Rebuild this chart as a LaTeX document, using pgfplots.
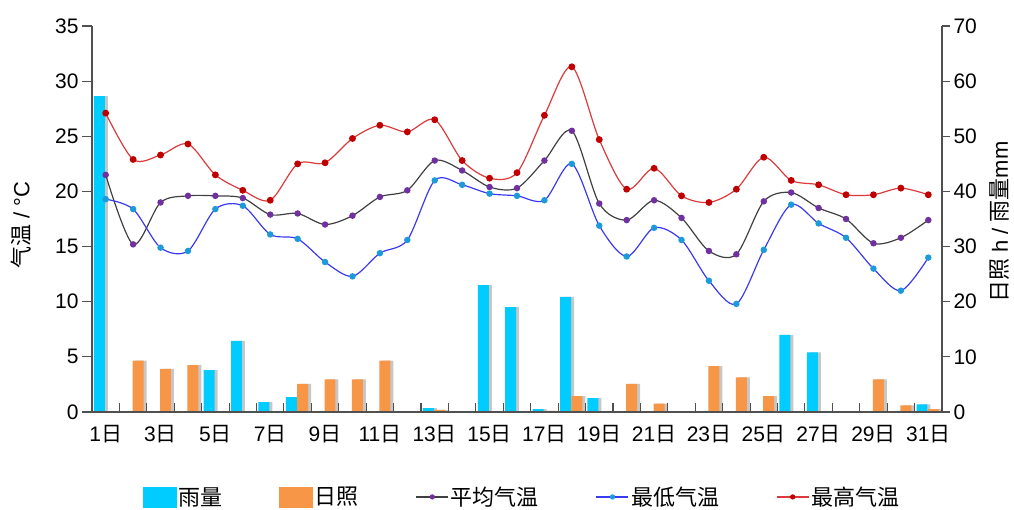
\documentclass[border=0pt]{standalone}
\usepackage{fontspec}
\setmainfont{Liberation Sans}
\newfontfamily\cjk{Noto Sans CJK SC}
\usepackage{pgfplots}
\pgfplotsset{compat=1.18}
\usepackage{pgfplotstable}

\definecolor{rain}{HTML}{00CCFF}
\definecolor{sun}{HTML}{F79646}
\definecolor{avgline}{HTML}{404040}
\definecolor{avgmark}{HTML}{7030A0}
\definecolor{minline}{HTML}{3A3AF2}
\definecolor{minmark}{HTML}{1C9ADA}
\definecolor{maxline}{HTML}{DB3B3B}
\definecolor{maxmark}{HTML}{C00000}
\definecolor{axisgray}{HTML}{505050}

\pgfplotstableread{
d rain
1 57.3
5 7.6
6 12.9
7 1.8
8 2.7
13 0.7
15 23.0
16 19.0
17 0.5
18 20.9
19 2.5
26 14.0
27 10.8
31 1.4
}\rainT

\pgfplotstableread{
d sun
2 9.3
3 7.8
4 8.5
8 5.1
9 5.9
10 5.9
11 9.3
13 0.4
17 0.2
18 2.9
20 5.1
21 1.5
23 8.3
24 6.3
25 2.9
29 5.9
30 1.2
31 0.5
}\sunT

\pgfplotstableread{
d avg min max
1 21.5 19.3 27.1
2 15.2 18.4 22.9
3 19.0 14.9 23.3
4 19.6 14.6 24.3
5 19.6 18.4 21.5
6 19.4 18.7 20.1
7 17.9 16.1 19.2
8 18.0 15.7 22.5
9 17.0 13.6 22.6
10 17.8 12.3 24.8
11 19.5 14.4 26.0
12 20.1 15.6 25.4
13 22.8 21.0 26.5
14 21.9 20.6 22.8
15 20.4 19.8 21.2
16 20.3 19.6 21.7
17 22.8 19.2 26.9
18 25.5 22.5 31.3
19 18.9 16.9 24.7
20 17.4 14.1 20.2
21 19.2 16.7 22.1
22 17.6 15.6 19.6
23 14.6 11.9 19.0
24 14.3 9.8 20.2
25 19.1 14.7 23.1
26 19.9 18.8 21.0
27 18.5 17.1 20.6
28 17.5 15.8 19.7
29 15.3 13.0 19.7
30 15.8 11.0 20.3
31 17.4 14.0 19.7
}\tempT

\begin{document}
\begin{tikzpicture}
\path[use as bounding box] (-92bp,-98bp) rectangle (922bp,412bp);
% ---------- bars, right axis ----------
\begin{axis}[
  at={(0,0)}, anchor=south west, scale only axis,
  width=850bp, height=386bp,
  xmin=0.5, xmax=31.5, ymin=0, ymax=70,
  axis x line=none, axis y line*=right,
  ytick={0,10,...,70},
  tick align=outside, major tick length=8bp,
  axis line style={draw=axisgray, line width=1.1bp},
  ytick style={draw=axisgray, line width=1.1bp},
  /pgf/number format/assume math mode=true,
  yticklabel style={font=\fontsize{21bp}{24bp}\selectfont, black},
  ylabel={{\cjk 日照} h / {\cjk 雨量}mm},
  ylabel style={at={(axis description cs:1.068,0.492)}, anchor=center, rotate=0,
    font=\fontsize{22bp}{26bp}\selectfont},
]
\addplot[ybar, bar width=0.4, bar shift=0pt, fill=rain, draw=none,
  preaction={fill=black, fill opacity=0.22, transform canvas={xshift=3bp}}]
  table[x expr=\thisrow{d}-0.23, y=rain]{\rainT};
\addplot[ybar, bar width=0.4, bar shift=0pt, fill=sun, draw=none,
  preaction={fill=black, fill opacity=0.22, transform canvas={xshift=3bp}}]
  table[x expr=\thisrow{d}+0.18, y=sun]{\sunT};
\end{axis}
% ---------- lines, left axis ----------
\begin{axis}[
  at={(0,0)}, anchor=south west, scale only axis,
  width=850bp, height=386bp,
  xmin=0.5, xmax=31.5, ymin=0, ymax=35,
  axis x line*=bottom, axis y line*=left,
  tick align=outside, major tick length=10bp,
  axis line style={draw=axisgray, line width=1.1bp},
  ytick={0,5,...,35},
  ytick style={draw=axisgray, line width=1.1bp},
  xtick={1,3,...,31},
  xticklabels={1{\cjk 日},3{\cjk 日},5{\cjk 日},7{\cjk 日},9{\cjk 日},11{\cjk 日},13{\cjk 日},15{\cjk 日},17{\cjk 日},19{\cjk 日},21{\cjk 日},23{\cjk 日},25{\cjk 日},27{\cjk 日},29{\cjk 日},31{\cjk 日}},
  xtick style={draw=none},
  extra x ticks={1.5,2.5,...,30.5},
  extra x tick labels={},
  extra x tick style={xtick style={draw=axisgray, line width=1.1bp, yshift=8.7bp}, major tick length=8.7bp},
  /pgf/number format/assume math mode=true,
  yticklabel style={font=\fontsize{21bp}{24bp}\selectfont, black},
  xticklabel style={font=\fontsize{21bp}{24bp}\selectfont, black},
  ylabel={{\cjk 气温} / °C},
  ylabel style={at={(axis description cs:-0.0835,0.484)}, anchor=center,
    font=\fontsize{22bp}{26bp}\selectfont},
  legend style={at={(0.506,-0.22)}, anchor=center, draw=none, fill=none,
    legend columns=5, font=\fontsize{22bp}{26bp}\selectfont,
    /tikz/every even column/.append style={column sep=55bp},
    nodes={inner sep=2bp}},
  legend cell align=left,
]
\addlegendimage{legend image code/.code={\fill[rain] (0bp,-10bp) rectangle (33bp,10bp);}}
\addlegendentry{{\cjk 雨量}}
\addlegendimage{legend image code/.code={\fill[sun] (0bp,-10bp) rectangle (33bp,10bp);}}
\addlegendentry{{\cjk 日照}}
\pgfplotsset{every axis plot/.append style={
  legend image code/.code={\draw[mark repeat=2, mark phase=2, #1, mark size=2bp]
    plot coordinates {(0bp,0bp) (16bp,0bp) (32bp,0bp)};}}}
\addplot[smooth, color=avgline, line width=1.2bp, mark=*, mark size=2.6bp,
  mark options={fill=avgmark, draw=avgmark}] table[x=d, y=avg]{\tempT};
\addlegendentry{{\cjk 平均气温}}
\addplot[smooth, color=minline, line width=1.2bp, mark=*, mark size=2.6bp,
  mark options={fill=minmark, draw=minmark}] table[x=d, y=min]{\tempT};
\addlegendentry{{\cjk 最低气温}}
\addplot[smooth, color=maxline, line width=1.2bp, mark=*, mark size=2.8bp,
  mark options={fill=maxmark, draw=maxmark}] table[x=d, y=max]{\tempT};
\addlegendentry{{\cjk 最高气温}}
\end{axis}
\end{tikzpicture}
\end{document}
